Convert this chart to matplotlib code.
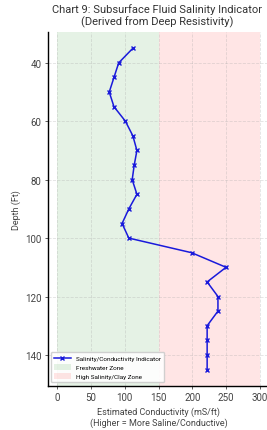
import matplotlib
matplotlib.use("Agg")
import matplotlib.pyplot as plt

plt.rcParams["font.family"] = ["Roboto", "DejaVu Sans"]

# depth in ft and estimated conductivity
depth = [35, 40, 45, 50, 55, 60, 65, 70, 75, 80, 85, 90, 95,
         100, 105, 110, 115, 120, 125, 130, 135, 140, 145]
conductivity = [112, 91, 84, 77, 84, 101, 112, 118, 114, 111, 118, 106, 96,
                106, 199, 250, 222, 238, 238, 222, 222, 222, 222]

fresh_zone = (0, 150)
saline_zone = (150, 300)
x_ticks = [0, 50, 100, 150, 200, 250, 300]
y_ticks = [40, 60, 80, 100, 120, 140]

fig = plt.figure(figsize=(2.67, 4.31), dpi=100)
ax = fig.add_axes([0.179, 0.103, 0.832, 0.820])

ax.axvspan(*fresh_zone, color="green", alpha=0.1, lw=0, label="Freshwater Zone")
ax.axvspan(*saline_zone, color="red", alpha=0.1, lw=0, label="High Salinity/Clay Zone")
ax.plot(conductivity, depth, color="#1a1adb", marker="x", markersize=3.5,
        linewidth=1.1, label="Salinity/Conductivity Indicator")

ax.set_xlim(-14, 315)
ax.set_ylim(150.5, 29.5)
ax.set_xticks(x_ticks)
ax.set_yticks(y_ticks)
ax.grid(True, linestyle="--", color="#aaaaaa", alpha=0.35, linewidth=0.6)
ax.tick_params(labelsize=7, length=2.5, width=0.6, pad=2, colors="#444444")

for side in ("top", "right"):
    ax.spines[side].set_visible(False)
for side in ("left", "bottom"):
    ax.spines[side].set_linewidth(1.0)

ax.set_xlabel("Estimated Conductivity (mS/ft)\n(Higher = More Saline/Conductive)",
              fontsize=6.5, color="#444444", labelpad=3)
ax.set_ylabel("Depth (Ft)", fontsize=6.5, color="#444444", labelpad=3)
fig.suptitle("Chart 9: Subsurface Fluid Salinity Indicator\n(Derived from Deep Resistivity)",
             fontsize=8.0, x=0.588, y=0.99, color="#333333", linespacing=1.15)

handles, labels = ax.get_legend_handles_labels()
order = [2, 0, 1]
ax.legend([handles[i] for i in order], [labels[i] for i in order],
          loc="lower left", fontsize=4.6, framealpha=0.9, borderpad=0.5,
          handlelength=2.6, handleheight=1.0, labelspacing=0.45)

fig.savefig("out.png", dpi=100)
